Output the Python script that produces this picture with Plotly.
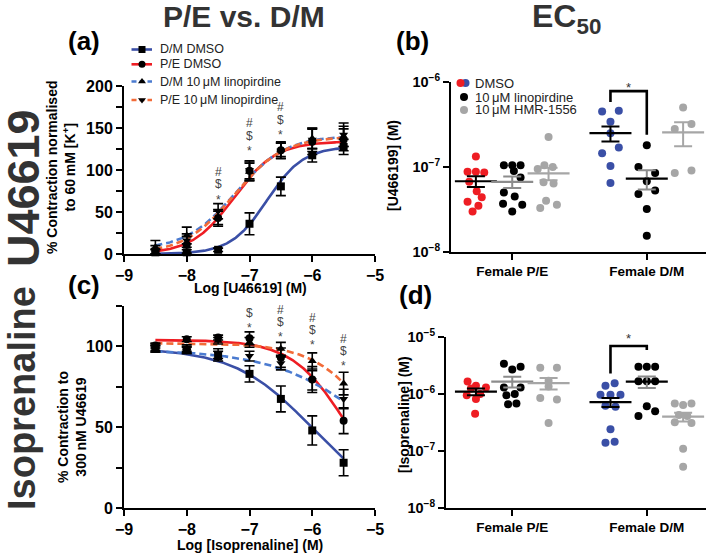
import numpy as np
import plotly.graph_objects as go

FONT = "Liberation Sans, Arial, Helvetica, sans-serif"
W, H = 709, 555

# ---------------- data ----------------
log_conc = [-8.5, -8.0, -7.5, -7.0, -6.5, -6.0, -5.5]
log_ticks = [-9, -8, -7, -6, -5]

# (a) U46619 concentration-response (% of 60 mM K+)
a_dm_dmso = [2, 2, 5, 36, 80.5, 117.5, 127.5]
a_dm_dmso_sem = [3, 3, 2, 13, 11, 8, 9]
a_pe_dmso = [3, 11, 43, 99, 123.5, 133.5, 136]
a_pe_dmso_sem = [3, 10, 10, 12, 10, 15, 13]
a_dm_lino = [8, 22, 43, 98, 124, 137.5, 140]
a_dm_lino_sem = [8, 10, 8, 10, 8, 12, 12]
a_pe_lino = [5, 16, 51, 99.6, 123, 136, 142]
a_pe_lino_sem = [5, 8, 9, 10, 9, 14, 14]
# fitted 4-parameter curves: [bottom, top, logEC50, hill]
a_fit_dm_dmso = [0, 128, -6.72, 1.5]
a_fit_pe_dmso = [0, 134, -7.25, 1.3]
a_fit_dm_lino = [5, 141, -7.22, 1.1]
a_fit_pe_lino = [0, 140, -7.25, 1.1]
a_sig_x = [-7.5, -7.0, -6.5]
a_sig_y = [68, 126, 145]
a_sig_txt = [["*", "$", "#"], ["*", "$", "#"], ["*", "$", "#"]]

# (c) Isoprenaline relaxation (% of 300 nM U46619)
c_dm_dmso = [98.5, 98, 94, 83, 67.5, 48, 28]
c_dm_dmso_sem = [2, 2, 3, 5, 8, 9, 8]
c_pe_dmso = [100.5, 104.5, 105.5, 105, 93, 79.5, 54]
c_pe_dmso_sem = [1.5, 1.5, 1.5, 4, 6, 8, 8]
c_dm_lino = [99.5, 99, 103.5, 102.5, 98.5, 91, 77]
c_dm_lino_sem = [2, 2, 2, 3, 4, 5, 7]
c_pe_lino = [98.5, 97.5, 95.5, 94, 89.5, 79, 67.5]
c_pe_lino_sem = [2, 2, 3, 3, 4, 6, 6]
c_fit_dm_dmso = [0, 99, -6.0, -0.7]
c_fit_pe_dmso = [0, 104, -5.45, -1.0]
c_fit_dm_lino = [0, 98, -4.93, -0.55]
c_fit_pe_lino = [0, 102, -4.95, -0.9]
c_sig_x = [-7.0, -6.5, -6.0, -5.5]
c_sig_y = [113, 107.4, 102.5, 90]
c_sig_txt = [["*", "$"], ["*", "$", "#"], ["*", "$", "#"], ["*", "$", "#"]]

# (b) EC50 U46619 (M)
categories = ["Female P/E", "Female D/M"]
b_pe_dmso = [1.33e-7, 8.8e-8, 8.8e-8, 8.6e-8, 6.7e-8, 5.2e-8, 4.4e-8, 3.9e-8, 3.5e-8, 3.0e-8]
b_pe_dmso_slot = [0, -1, 0, 1, -0.8, 0.1, 0.7, -1, 0.3, -0.4]
b_pe_lino = [1.05e-7, 1.05e-7, 1.05e-7, 9.0e-8, 7.5e-8, 4.5e-8, 5.0e-8, 3.7e-8, 3.6e-8, 3.0e-8]
b_pe_lino_slot = [-1, 0, 1, 0.2, 1, 0.3, -1, -1.1, 1.2, 0]
b_pe_hmr = [2.25e-7, 1.05e-7, 1.0e-7, 9.5e-8, 6.6e-8, 6.4e-8, 4.0e-8, 3.6e-8, 3.3e-8]
b_pe_hmr_slot = [0, -0.5, 0.5, -1.3, -0.6, 0.6, -0.3, 1, -1]
b_dm_dmso = [4.5e-7, 4.6e-7, 3.4e-7, 2.5e-7, 1.7e-7, 1.45e-7, 1.03e-7, 6.5e-8]
b_dm_dmso_slot = [-1, 1, 0, 0, 1, -1, 0, 0]
b_dm_lino = [1.8e-7, 1.0e-7, 8.5e-8, 6.8e-8, 4.8e-8, 5.3e-8, 3.2e-8, 1.55e-8]
b_dm_lino_slot = [0, -1, 1, 0, -1, 1, 0, 0]
b_dm_hmr = [5.0e-7, 2.8e-7, 3.2e-7, 8.5e-8, 9.1e-8]
b_dm_hmr_slot = [0, -1, 1, -1, 1]
b_mean = [[6.8e-8, 6.7e-8, 8.4e-8], [2.5e-7, 7.3e-8, 2.55e-7]]
b_sem = [[1.0e-8, 1.05e-8, 1.4e-8], [5.0e-8, 1.85e-8, 8.0e-8]]
b_bracket_y = [5.8e-7, 7.8e-7, 7.8e-7, 2.4e-7]

# (d) EC50 Isoprenaline (M)
d_pe_dmso = [1.65e-6, 1.4e-6, 1.3e-6, 1.25e-6, 1.0e-6, 9.5e-7, 8.2e-7, 4.5e-7]
d_pe_dmso_slot = [-1, 0, 1.2, -0.6, 0.5, -1.1, 0, -0.1]
d_pe_lino = [3.4e-6, 2.7e-6, 3.0e-6, 1.3e-6, 1.3e-6, 1.0e-6, 9.5e-7, 6.6e-7, 6.8e-7]
d_pe_lino_slot = [-1, 0, 1, -1, 1, 0.3, -0.7, -0.5, 0.5]
d_pe_hmr = [2.9e-6, 2.9e-6, 1.7e-6, 1.35e-6, 8.5e-7, 8.0e-7, 3.1e-7]
d_pe_hmr_slot = [-1, 1, 0, 0, -1, 1, 0]
d_dm_dmso = [1.4e-6, 1.55e-6, 9.7e-7, 9.7e-7, 9.7e-7, 6.2e-7, 6.0e-7, 2.4e-7, 1.4e-7, 1.45e-7]
d_dm_dmso_slot = [-0.6, 0.5, -1.2, 0, 1.2, -0.6, 0.6, 0, -0.6, 0.5]
d_dm_lino = [3.0e-6, 3.0e-6, 3.0e-6, 1.67e-6, 1.67e-6, 1.67e-6, 6.1e-7, 5.0e-7, 4.1e-7]
d_dm_lino_slot = [-1, 0, 1, -1, 1, 0, 0, 1, -1]
d_dm_hmr = [6.8e-7, 6.4e-7, 6.8e-7, 4.3e-7, 4.1e-7, 3.2e-7, 3.1e-7, 1.1e-7, 5.3e-8]
d_dm_hmr_slot = [-1, 0, 1, -0.5, 0.5, -1, 1, 0, 0]
d_mean = [[1.1e-6, 1.65e-6, 1.55e-6], [7.2e-7, 1.65e-6, 4.0e-7]]
d_sem = [[1.5e-7, 3.5e-7, 3.5e-7], [1.3e-7, 3.8e-7, 7.0e-8]]
d_bracket_y = [2.3e-6, 6.95e-6, 6.95e-6, 5.9e-6]

legend_a_labels = ["D/M DMSO", "P/E DMSO", "D/M 10\u2009μM linopirdine", "P/E 10\u2009μM linopirdine"]
legend_b_labels = ["DMSO", "10\u2009μM linopirdine", "10\u2009μM HMR-1556"]

# ---------------- style ----------------
C_DM = "#3a4fa6"
C_PE = "#ee1d23"
C_DML = "#4b7bd0"
C_PEL = "#f26b38"
C_GRAY = "#a6a6a6"
DASH = "7px,4px"
OFFS = [-0.27, 0.0, 0.27]
SLOT = 0.062


def px2paper(px, py):
    return px / W, 1 - py / H


def curve(p, xs):
    bottom, top, c, h = p
    return bottom + (top - bottom) / (1 + 10 ** ((c - xs) * h))


fig = go.Figure()
xs = np.linspace(-8.5, -5.5, 200)

# ---- CRC panels ----
crc_specs = [
    ("x", "y",
     [(a_fit_dm_dmso, C_DM, "solid"), (a_fit_pe_dmso, C_PE, "solid"),
      (a_fit_dm_lino, C_DML, DASH), (a_fit_pe_lino, C_PEL, DASH)],
     [(a_dm_dmso, a_dm_dmso_sem, "square"), (a_pe_dmso, a_pe_dmso_sem, "circle"),
      (a_dm_lino, a_dm_lino_sem, "triangle-up"), (a_pe_lino, a_pe_lino_sem, "triangle-down")]),
    ("x3", "y3",
     [(c_fit_dm_dmso, C_DM, "solid"), (c_fit_pe_dmso, C_PE, "solid"),
      (c_fit_dm_lino, C_DML, DASH), (c_fit_pe_lino, C_PEL, DASH)],
     [(c_dm_dmso, c_dm_dmso_sem, "square"), (c_pe_dmso, c_pe_dmso_sem, "circle"),
      (c_dm_lino, c_dm_lino_sem, "triangle-up"), (c_pe_lino, c_pe_lino_sem, "triangle-down")]),
]
for xa, ya, fits, pts in crc_specs:
    for p, col, dash in fits:
        fig.add_trace(go.Scatter(x=xs, y=curve(p, xs), mode="lines", xaxis=xa, yaxis=ya,
                                 line=dict(color=col, width=2.6, dash=dash), showlegend=False,
                                 hoverinfo="skip"))
    for vals, sem, sym in pts:
        fig.add_trace(go.Scatter(x=log_conc, y=vals, mode="markers", xaxis=xa, yaxis=ya,
                                 marker=dict(symbol=sym, size=8, color="black"),
                                 error_y=dict(type="data", array=sem, color="black",
                                              thickness=1.6, width=5),
                                 showlegend=False, cliponaxis=False))


# ---- EC50 panels ----
def add_ec50(xa, ya, groups, means, sems, bracket_y):
    cols = [[C_PE, "black", C_GRAY], [C_DM, "black", C_GRAY]]
    mean_cols = [["black", "#8c8c8c", C_GRAY], ["black", "black", C_GRAY]]
    err_cols = [["black", "#8c8c8c", C_GRAY], ["black", "#8c8c8c", C_GRAY]]
    for ci in range(2):
        for gi in range(3):
            vals, slots = groups[ci][gi]
            xpos = [ci + OFFS[gi] + s * SLOT for s in slots]
            fig.add_trace(go.Scatter(x=xpos, y=vals, mode="markers", xaxis=xa, yaxis=ya,
                                     marker=dict(size=8, color=cols[ci][gi]),
                                     showlegend=False, cliponaxis=False))
    for ci in range(2):
        for gi in range(3):
            xm = ci + OFFS[gi]
            fig.add_trace(go.Scatter(x=[xm], y=[means[ci][gi]], mode="markers", xaxis=xa, yaxis=ya,
                                     marker=dict(symbol="line-ew", size=30,
                                                 line=dict(width=2.2, color=mean_cols[ci][gi])),
                                     error_y=dict(type="data", array=[sems[ci][gi]],
                                                  color=err_cols[ci][gi], thickness=2, width=9),
                                     showlegend=False, cliponaxis=False))
    bx = 1 + OFFS[0]
    fig.add_trace(go.Scatter(x=[bx, bx, 1, 1], y=bracket_y, mode="lines", xaxis=xa, yaxis=ya,
                             line=dict(color="black", width=2.6), showlegend=False,
                             cliponaxis=False))


add_ec50("x2", "y2",
         [[(b_pe_dmso, b_pe_dmso_slot), (b_pe_lino, b_pe_lino_slot), (b_pe_hmr, b_pe_hmr_slot)],
          [(b_dm_dmso, b_dm_dmso_slot), (b_dm_lino, b_dm_lino_slot), (b_dm_hmr, b_dm_hmr_slot)]],
         b_mean, b_sem, b_bracket_y)
add_ec50("x4", "y4",
         [[(d_pe_dmso, d_pe_dmso_slot), (d_pe_lino, d_pe_lino_slot), (d_pe_hmr, d_pe_hmr_slot)],
          [(d_dm_dmso, d_dm_dmso_slot), (d_dm_lino, d_dm_lino_slot), (d_dm_hmr, d_dm_hmr_slot)]],
         d_mean, d_sem, d_bracket_y)

# ---- manual legends on a full-figure pixel overlay ----
leg_a_rows = [49.5, 64.3, 81.5, 100]
leg_a_cols = [C_DM, C_PE, C_DML, C_PEL]
leg_a_dash = ["solid", "solid", "5px,3px", "5px,3px"]
leg_a_sym = ["square", "circle", "triangle-up", "triangle-down"]
for r, col, dsh, sym in zip(leg_a_rows, leg_a_cols, leg_a_dash, leg_a_sym):
    fig.add_trace(go.Scatter(x=[131.5, 152], y=[r, r], mode="lines", xaxis="x5", yaxis="y5",
                             line=dict(color=col, width=2.6, dash=dsh), showlegend=False))
    fig.add_trace(go.Scatter(x=[142], y=[r], mode="markers", xaxis="x5", yaxis="y5",
                             marker=dict(symbol=sym, size=7, color="black"), showlegend=False))

leg_b_rows = [83, 97, 110]
fig.add_trace(go.Scatter(x=[465.5], y=[leg_b_rows[0]], mode="markers", xaxis="x5", yaxis="y5",
                         marker=dict(size=8, color=C_DM), showlegend=False))
fig.add_trace(go.Scatter(x=[460.5], y=[leg_b_rows[0]], mode="markers", xaxis="x5", yaxis="y5",
                         marker=dict(size=8, color=C_PE), showlegend=False))
fig.add_trace(go.Scatter(x=[464], y=[leg_b_rows[1]], mode="markers", xaxis="x5", yaxis="y5",
                         marker=dict(size=8, color="black"), showlegend=False))
fig.add_trace(go.Scatter(x=[464], y=[leg_b_rows[2]], mode="markers", xaxis="x5", yaxis="y5",
                         marker=dict(size=8, color=C_GRAY), showlegend=False))

# ---------------- layout ----------------
tickfont = dict(family=FONT, size=16, color="black", weight="bold")
logfont = dict(family=FONT, size=14.5, color="black", weight="bold")
catfont = dict(family=FONT, size=13.5, color="black", weight="bold")
axcommon = dict(showline=True, linecolor="black", linewidth=2, ticks="outside", ticklen=6,
                tickwidth=2, tickcolor="black", showgrid=False, zeroline=False, fixedrange=True,
                automargin=False)


def dom_x(p0, p1):
    return [p0 / W, p1 / W]


def dom_y(ptop, pbot):
    return [1 - pbot / H, 1 - ptop / H]


layout = dict(
    template="none",
    width=W, height=H, margin=dict(l=0, r=0, t=0, b=0, pad=0, autoexpand=False),
    paper_bgcolor="white", plot_bgcolor="rgba(0,0,0,0)",
    font=dict(family=FONT, color="black"),
    hovermode=False,
    xaxis=dict(domain=dom_x(124, 375), anchor="y", range=[-9, -5], tickvals=log_ticks,
               tickfont=tickfont, **axcommon),
    yaxis=dict(domain=dom_y(86, 254), anchor="x", range=[0, 200], tickmode="linear", tick0=0,
               dtick=50, tickfont=tickfont,
               minor=dict(ticks="outside", ticklen=6, tickwidth=2, tickcolor="black", dtick=25,
                          tick0=0, showgrid=False), **axcommon),
    xaxis3=dict(domain=dom_x(124, 375), anchor="y3", range=[-9, -5], tickvals=log_ticks,
                tickfont=tickfont, **axcommon),
    yaxis3=dict(domain=dom_y(306, 508), anchor="x3", range=[0, 125], tickmode="linear", tick0=0,
                dtick=50, tickfont=tickfont,
                minor=dict(ticks="outside", ticklen=6, tickwidth=2, tickcolor="black", dtick=25,
                           tick0=0, showgrid=False), **axcommon),
    xaxis2=dict(domain=dom_x(451, 706), anchor="y2", range=[-0.455, 1.44], tickvals=[0, 1],
                ticktext=categories, tickfont=catfont, **axcommon),
    yaxis2=dict(domain=dom_y(82, 252), anchor="x2", type="log", range=[-8, -6],
                tickvals=[1e-8, 1e-7, 1e-6],
                ticktext=["10<sup>−8</sup>", "10<sup>−7</sup>", "10<sup>−6</sup>"],
                tickfont=logfont, **axcommon),
    xaxis4=dict(domain=dom_x(446, 706), anchor="y4", range=[-0.4925, 1.44], tickvals=[0, 1],
                ticktext=categories, tickfont=catfont, **axcommon),
    yaxis4=dict(domain=dom_y(337, 508), anchor="x4", type="log", range=[-8, -5],
                tickvals=[1e-8, 1e-7, 1e-6, 1e-5],
                ticktext=["10<sup>−8</sup>", "10<sup>−7</sup>", "10<sup>−6</sup>", "10<sup>−5</sup>"],
                tickfont=logfont, **axcommon),
    xaxis5=dict(domain=[0, 1], anchor="y5", range=[0, W], visible=False, fixedrange=True,
                automargin=False),
    yaxis5=dict(domain=[0, 1], anchor="x5", range=[H, 0], visible=False, fixedrange=True,
                automargin=False),
)
fig.update_layout(**layout)

anns = []


def ann_px(text, px, py, size, color="black", bold=True, angle=0, xanchor="center",
           yanchor="middle"):
    x, y = px2paper(px, py)
    anns.append(dict(text=text, x=x, y=y, xref="paper", yref="paper", showarrow=False,
                     textangle=angle, xanchor=xanchor, yanchor=yanchor,
                     font=dict(family=FONT, size=size, color=color,
                               weight="bold" if bold else "normal")))


# headings
ann_px("P/E vs. D/M", 244, 16, 30, "#333333")
ann_px("EC<sub>50</sub>", 566, 19, 32, "#333333")
ann_px("U46619", 23, 188, 45, "#333333", angle=-90)
ann_px("Isoprenaline", 22, 398, 38, "#333333", angle=-90)
# panel letters
ann_px("(a)", 84, 41, 26)
ann_px("(b)", 412, 41, 26)
ann_px("(c)", 84, 285, 26)
ann_px("(d)", 415, 295, 26)
# axis titles
ann_px("% Contraction normalised<br>to 60\u2009mM [K<sup>+</sup>]", 61, 168, 14, angle=-90)
ann_px("Log [U46619] (M)", 250, 288, 14)
ann_px("% Contraction to<br>300\u2009nM U46619", 72, 427, 14, angle=-90)
ann_px("Log [Isoprenaline] (M)", 250, 545, 14)
ann_px("[U466199] (M)", 393, 166, 14, angle=-90)
ann_px("[Isoprenaline] (M)", 404, 415, 14, angle=-90)
# legends text
for r, lab in zip(leg_a_rows, legend_a_labels):
    ann_px(lab, 158, r, 12.5, "#222222", bold=False, xanchor="left")
for r, lab in zip(leg_b_rows, legend_b_labels):
    ann_px(lab, 473, r, 13, "#222222", bold=False, xanchor="left")

# significance symbols on CRC panels
for xa, ya, sx, sy, st, gap in [("x", "y", a_sig_x, a_sig_y, a_sig_txt, 12.5),
                                 ("x3", "y3", c_sig_x, c_sig_y, c_sig_txt, 12)]:
    for xv, yv, syms in zip(sx, sy, st):
        for k, s in enumerate(syms):
            shift = k * gap + (-3 if s == "*" else 0)
            anns.append(dict(text=s, x=xv, y=yv, xref=xa, yref=ya, showarrow=False,
                             yshift=shift, xanchor="center", yanchor="middle",
                             font=dict(family=FONT, size=12, color="#444444")))
# stars above brackets
anns.append(dict(text="*", x=0.865, y=-6.07, xref="x2", yref="y2", showarrow=False,
                 font=dict(family=FONT, size=13, color="#333333")))
anns.append(dict(text="*", x=0.865, y=-5.02, xref="x4", yref="y4", showarrow=False,
                 font=dict(family=FONT, size=13, color="#333333")))

fig.update_layout(annotations=anns)
fig.write_html("out.html",
               config={"displayModeBar": False, "staticPlot": True},
               post_script="document.body.style.margin='0';document.body.style.padding='0';"
                           "document.body.style.overflow='hidden';")
